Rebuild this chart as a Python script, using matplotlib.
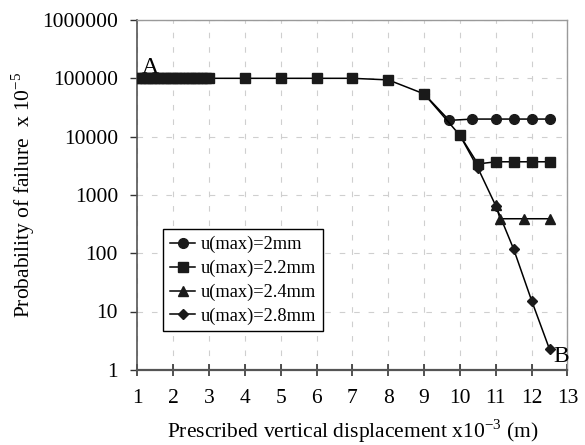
import matplotlib
matplotlib.use("Agg")
import matplotlib.pyplot as plt

plt.rcParams["font.family"] = ["Liberation Serif", "DejaVu Serif"]
plt.rcParams["mathtext.fontset"] = "custom"
plt.rcParams["mathtext.rm"] = "Liberation Serif"

# ---------------------------------------------------------
# data
# ---------------------------------------------------------
# u(max)=2.2mm carries the shared early part of the curve
x_22 = [1.0, 1.1, 1.2, 1.3, 1.4, 1.5, 1.6, 1.7, 1.8, 1.9, 2.0,
        2.1, 2.2, 2.3, 2.4, 2.5, 2.6, 2.7, 2.8, 2.9, 3.0,
        4, 5, 6, 7, 8, 9, 10, 10.5, 11, 11.5, 12, 12.5]
p_22 = [100000, 100000, 100000, 100000, 100000, 100000, 100000,
        100000, 100000, 100000, 100000, 100000, 100000, 100000,
        100000, 100000, 100000, 100000, 100000, 100000, 100000,
        100000, 100000, 100000, 100000, 94000, 54000, 10500,
        3400, 3700, 3700, 3700, 3700]

x_20 = [9, 9.7, 10.35, 11, 11.5, 12, 12.5]
p_20 = [54000, 19000, 20000, 20000, 20000, 20000, 20000]

x_24 = [11, 11.12, 11.8, 12.5]
p_24 = [670, 390, 390, 390]

x_28 = [10, 10.5, 11, 11.5, 12, 12.5]
p_28 = [10500, 2900, 650, 117, 15.4, 2.25]

x_ticks = [1, 2, 3, 4, 5, 6, 7, 8, 9, 10, 11, 12, 13]
y_ticks = [1, 10, 100, 1000, 10000, 100000, 1000000]

# ---------------------------------------------------------
# plot
# ---------------------------------------------------------
fig = plt.figure(figsize=(5.85, 4.45), dpi=100)
ax = fig.add_axes([0.235, 0.169, 0.735, 0.786])

mk = "#1a1a1a"
ax.plot(x_28, p_28, color="black", lw=1.1, marker="D", ms=5,
        mfc=mk, mec=mk, zorder=3, label="u(max)=2.8mm")
ax.plot(x_24, p_24, color="black", lw=1.1, marker="^", ms=7.5,
        mfc=mk, mec=mk, zorder=4, label="u(max)=2.4mm")
ax.plot(x_20, p_20, color="black", lw=1.1, marker="o", ms=7,
        mfc=mk, mec=mk, zorder=5, label="u(max)=2mm")
ax.plot(x_22, p_22, color="black", lw=1.1, marker="s", ms=6.5,
        mfc=mk, mec=mk, zorder=6, label="u(max)=2.2mm")

ax.set_yscale("log")
ax.set_xlim(1, 13)
ax.set_ylim(1, 1000000)
ax.set_xticks(x_ticks)
ax.set_xticklabels([str(t) for t in x_ticks])
ax.set_yticks(y_ticks)
ax.set_yticklabels([str(t) for t in y_ticks])
ax.minorticks_off()

ax.tick_params(axis="both", labelsize=15.5, colors="#333333", labelcolor="black")
ax.tick_params(axis="x", direction="inout", length=9, width=1.2, pad=9)
ax.tick_params(axis="y", direction="out", length=5, width=1.0, pad=9)

ax.grid(True, color="#cfcfcf", lw=0.8, linestyle=(0, (5, 8)))
ax.set_axisbelow(True)

for side in ["top", "right"]:
    ax.spines[side].set_color("#9a9a9a")
    ax.spines[side].set_linewidth(1.0)
ax.spines["left"].set_color("#555555")
ax.spines["left"].set_linewidth(1.2)
ax.spines["bottom"].set_color("#555555")
ax.spines["bottom"].set_linewidth(1.6)

ax.set_xlabel(r"Prescribed vertical displacement x10$^{\mathregular{-3}}$ (m)",
              fontsize=15.5, labelpad=7)
ax.set_ylabel(r"Probability of failure  x 10$^{\mathregular{-5}}$",
              fontsize=15.5, labelpad=4)

ax.text(1.12, 125000, "A", fontsize=17, ha="left", va="baseline")
ax.text(12.62, 1.35, "B", fontsize=17, ha="left", va="baseline")

handles, labels = ax.get_legend_handles_labels()
order = ["u(max)=2mm", "u(max)=2.2mm", "u(max)=2.4mm", "u(max)=2.8mm"]
hmap = dict(zip(labels, handles))
leg = ax.legend([hmap[k] for k in order], order, loc="lower left",
                bbox_to_anchor=(0.06, 0.11), borderaxespad=0,
                fontsize=13.2, fancybox=False, framealpha=1,
                edgecolor="black", handlelength=1.4, handletextpad=0.3,
                labelspacing=0.36, borderpad=0.35)
leg.get_frame().set_linewidth(1.0)

fig.savefig("out.png", dpi=100)
